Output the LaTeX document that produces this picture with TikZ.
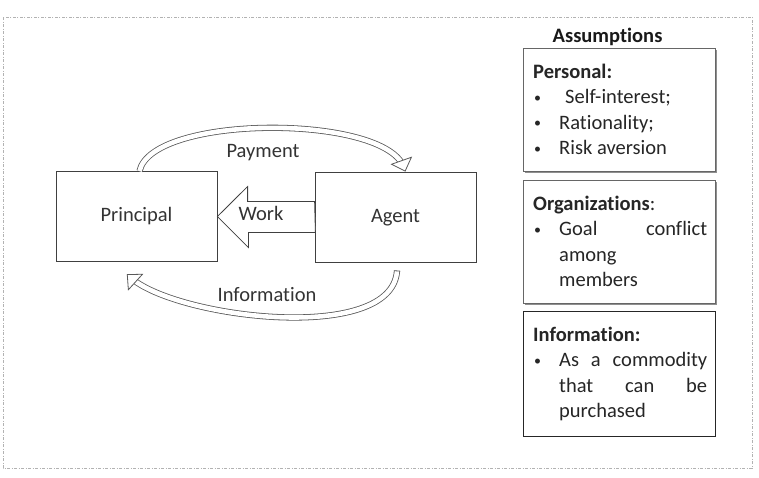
\documentclass[tikz,border=0pt]{standalone}
\usepackage{fontspec}
\setmainfont[Ligatures=NoCommon]{Carlito}
\usetikzlibrary{shapes.geometric,shadows}
\newcommand{\bul}{\makebox[26pt][l]{\hspace{1pt}\raisebox{1.5pt}{\fontsize{14}{14}\selectfont •}}}
\newcommand{\ind}{\hspace*{26pt}}
\newcommand{\jline}[1]{\makebox[148pt][s]{#1}}

\begin{document}
\begin{tikzpicture}[x=1pt,y=-1pt,
  font=\fontsize{20.5}{25.5}\selectfont,
  party/.style={draw=black!75,line width=0.8pt,minimum width=161pt,minimum height=90pt,inner sep=0pt,text=black!80},
  abox/.style={draw=black!60,line width=0.9pt,fill=white,minimum width=192pt,minimum height=123pt,anchor=north west,inner sep=0pt},
  shade/.style={drop shadow={shadow xshift=1.2pt,shadow yshift=-1.2pt,fill=black!55,opacity=0.8}},
  atext/.style={anchor=north west,inner sep=0pt,align=left,text=black!85},
  band/.style={draw=black!65,double=white,double distance=4.6pt,line width=0.8pt,shorten >=5pt},
  bandhead/.style={isosceles triangle,isosceles triangle stretches,minimum width=21pt,minimum height=11pt,inner sep=0pt,
    draw=black!65,line width=0.8pt,fill=white,anchor=apex,sloped,allow upside down,pos=1},
  bandcap/.style={draw=black!65,line width=0.8pt,minimum width=0pt,minimum height=6.2pt,inner sep=0pt,sloped,allow upside down,pos=0}]
\useasboundingbox (0,0) rectangle (759,477);
\draw[black!30,line width=0.6pt,dash pattern=on 3pt off 1.5pt on 1pt off 1.5pt] (3,17) rectangle (752,468);

\node[party] (principal) at (136.5,216.5) {Principal};
\node[party] (agent) at (395.5,217.5) {Agent};
\draw[draw=black!75,line width=0.8pt,fill=white] (agent.west) ++(0,-16) -- ++(-67,0) -- ++(0,-15) -- (principal.east) -- ++(31,31) -- ++(0,-15) -- ++(67,0) -- cycle;
\node[text=black!80] (work) at (261,213) {Work};

\draw[band] ([xshift=3pt]principal.north) .. controls (152,114) and (385,114) .. ([xshift=10pt]agent.north);
\path ([xshift=3pt]principal.north) .. controls (152,114) and (385,114) .. ([xshift=10pt]agent.north) node[bandhead] (payhead) {};
\node[text=black!80] (pay) at (263,153) {Payment};

\draw[band] ([xshift=1.5pt,yshift=-8pt]agent.south) .. controls (392,345) and (175,318) .. ([xshift=-10pt,yshift=-12pt]principal.south);
\path ([xshift=1.5pt,yshift=-8pt]agent.south) .. controls (392,345) and (175,318) .. ([xshift=-10pt,yshift=-12pt]principal.south) node[bandcap] (infocap) {} node[bandhead] (infohead) {};
\node[text=black!80] (info) at (267,295) {Information};

\node[anchor=base,text=black!90] (assum) at (607.5,42) {\textbf{Assumptions}};
\node[abox,shade] (pers) at (523,48) {};
\node[atext] (perstxt) at ([xshift=10pt]pers.north west) {\rule{0pt}{30pt}\textbf{Personal:}\\ \bul\hspace{6pt}Self-interest;\\ \bul Rationality;\\ \bul Risk aversion};
\node[abox,shade] (orgs) at (523,180) {};
\node[atext] (orgstxt) at ([xshift=10pt]orgs.north west) {\rule{0pt}{30pt}\textbf{Organizations}:\\ \bul\jline{Goal conflict}\\ \ind among\\ \ind members};
\node[abox,minimum height=125pt,draw=black!85,line width=1.3pt] (infobox) at (523,311) {};
\node[atext] (infotxt) at ([xshift=10pt]infobox.north west) {\rule{0pt}{30pt}\textbf{Information:}\\ \bul\jline{As a commodity}\\ \ind\jline{that can be}\\ \ind purchased};
\end{tikzpicture}
\end{document}
